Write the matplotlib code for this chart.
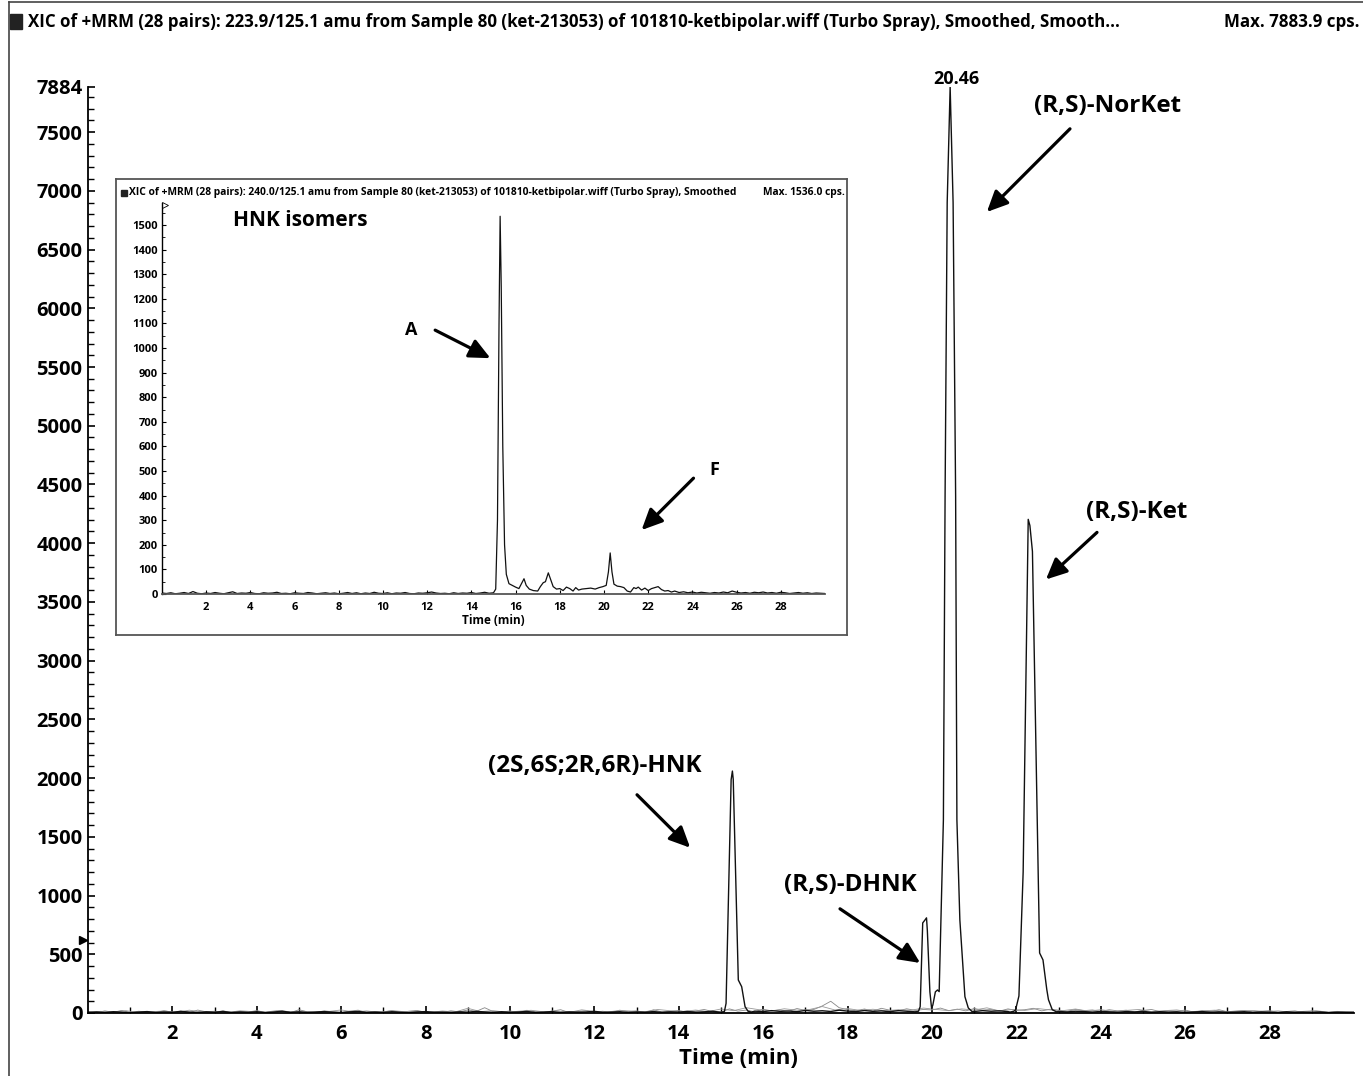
import numpy as np
import matplotlib
matplotlib.use("Agg")
import matplotlib.pyplot as plt
from matplotlib.patches import Rectangle
from matplotlib.lines import Line2D

plt.rcParams['font.family'] = ['Open Sans', 'Noto Sans', 'DejaVu Sans']
plt.rcParams['font.weight'] = 'bold'

W, H = 1363, 1076

# ---------------- text
main_title = ("XIC of +MRM (28 pairs): 223.9/125.1 amu from Sample 80 (ket-213053) of "
              "101810-ketbipolar.wiff (Turbo Spray), Smoothed, Smooth...")
main_max = "Max. 7883.9 cps."
inset_title = ("XIC of +MRM (28 pairs): 240.0/125.1 amu from Sample 80 (ket-213053) of "
               "101810-ketbipolar.wiff (Turbo Spray), Smoothed")
inset_max = "Max. 1536.0 cps."

# ---------------- main chromatogram data (counts), baseline every 0.2 min
main_noise = [
    6, 9, 4, 11, 7, 3, 8, 12, 5, 9,
    6, 14, 8, 4, 10, 7, 13, 5, 9, 6,
    11, 4, 8, 15, 6, 10, 5, 9, 12, 7,
    4, 10, 13, 6, 8, 5, 11, 7, 3, 9,
    12, 6, 8, 4, 10, 7, 14, 9, 5, 11,
    6, 9, 13, 5, 8, 12, 4, 10, 7, 9,
    14, 6, 8, 11, 5, 9, 7, 12, 6, 10,
    8, 13, 7, 10, 15, 9, 12, 18, 11, 16,
    12, 20, 14, 17, 11, 22, 15, 19, 13, 24,
    16, 12, 21, 14, 18, 11, 20, 15, 13, 17,
    14, 19, 12, 22, 16, 13, 20, 15, 18, 12,
    17, 14, 19, 11, 16, 13, 9, 15, 12, 8,
    13, 10, 7, 12, 9, 14, 6, 11, 8, 10,
    5, 9, 12, 7, 10, 6, 8, 11, 5, 9,
    7, 4, 10, 6, 8, 5, 9, 3, 7, 6,
    5,
]
# other transitions (grey), every 0.2 min and every 0.3 min
gray_a = [
    12, 3, 18, 6, 22, 4, 15, 9, 2, 20,
    7, 16, 3, 25, 10, 5, 19, 2, 14, 8,
    21, 4, 12, 17, 3, 28, 9, 6, 18, 11,
    2, 16, 24, 5, 13, 8, 20, 3, 15, 22,
    6, 11, 4, 19, 9, 26, 14, 45, 12, 7,
    18, 3, 23, 10, 6, 16, 28, 4, 13, 20,
    8, 15, 2, 24, 11, 18, 5, 27, 9, 14,
    21, 6, 17, 30, 12, 8, 35, 16, 25, 10,
    32, 18, 26, 14, 38, 22, 30, 60, 100, 45,
    28, 20, 34, 16, 40, 24, 18, 36, 22, 30,
    26, 42, 20, 33, 18, 38, 25, 30, 16, 35,
    22, 28, 40, 18, 32, 24, 15, 30, 20, 26,
    14, 28, 18, 24, 10, 22, 30, 12, 20, 16,
    25, 8, 19, 14, 28, 11, 17, 22, 9, 15,
    20, 6, 13, 18, 4, 16, 10, 7, 14, 5,
    9,
]
gray_b = [
    5, 14, 8, 20, 3, 11, 17, 6, 24, 9,
    15, 4, 19, 12, 7, 22, 10, 16, 3, 13,
    26, 8, 18, 5, 21, 11, 14, 6, 17, 9,
    40, 12, 20, 7, 15, 23, 10, 18, 5, 27,
    13, 8, 22, 16, 11, 30, 19, 14, 25, 12,
    34, 20, 45, 28, 18, 36, 24, 30, 55, 26,
    38, 22, 32, 19, 28, 24, 42, 30, 20, 35,
    25, 44, 18, 30, 22, 38, 26, 20, 34, 16,
    28, 14, 22, 30, 12, 20, 26, 10, 18, 24,
    8, 16, 22, 11, 18, 7, 14, 20, 6, 12,
    9,
]

# peaks of the main trace: (times, counts)
hnk_t = [15.0, 15.08, 15.12, 15.24, 15.27, 15.29, 15.41, 15.49, 15.57, 15.64, 15.72]
hnk_v = [6, 12, 82, 1986, 2060, 1990, 281, 224, 54, 15, 8]
norket_t = [19.6, 19.68, 19.72, 19.78, 19.83, 19.87, 19.89, 19.95, 19.99, 20.02, 20.08,
            20.13, 20.17, 20.27, 20.31, 20.36, 20.43, 20.50, 20.56, 20.59, 20.66,
            20.78, 20.86, 20.95]
norket_v = [10, 15, 54, 767, 790, 810, 700, 180, 40, 68, 180,
            196, 182, 1645, 4400, 6900, 7884, 6900, 4400, 1645, 793,
            139, 43, 12]
ket_t = [21.85, 21.94, 21.98, 22.06, 22.16, 22.28, 22.32, 22.38, 22.55, 22.63, 22.72,
         22.76, 22.85, 22.95]
ket_v = [8, 15, 26, 145, 1200, 4203, 4150, 3930, 511, 452, 200, 113, 28, 10]

# ---------------- inset (240.0/125.1, HNK isomers)
inset_pre = [
    4, 2, 5, 1, 3, 6, 2, 10, 3, 1,
    4, 2, 6, 3, 1, 5, 9, 2, 4, 3,
    6, 2, 1, 5, 3, 4, 7, 2, 3, 1,
    5, 3, 2, 6, 4, 1, 3, 5, 2, 4,
    1, 3, 6, 2, 5, 1, 4, 2, 7, 3,
    2, 5, 1, 4, 3, 6, 2, 1, 4, 3,
    5, 8, 4, 2, 3, 1, 5, 2, 4, 3,
    6, 2, 4, 7, 3,
]
inset_mid_t = [15.0, 15.1, 15.18, 15.25, 15.3, 15.35, 15.42, 15.5, 15.58, 15.7, 15.85,
               16.0, 16.15, 16.28, 16.38, 16.48, 16.62, 16.8, 17.0, 17.12, 17.25, 17.35,
               17.48, 17.58, 17.7, 17.85, 18.0, 18.15, 18.3, 18.45, 18.6, 18.72, 18.85,
               19.0, 19.2, 19.4, 19.6, 19.78, 19.95, 20.1, 20.2, 20.28, 20.36, 20.45,
               20.6, 20.75, 20.9, 21.05, 21.2, 21.35, 21.45, 21.55, 21.7, 21.85, 22.0,
               22.15, 22.3, 22.45, 22.6, 22.75, 22.9, 23.05, 23.2]
inset_mid_v = [5, 20, 300, 1100, 1536, 1250, 600, 200, 80, 42, 35,
               28, 22, 45, 62, 35, 20, 14, 12, 30, 46, 50,
               86, 60, 30, 20, 22, 14, 28, 22, 12, 26, 16,
               20, 22, 24, 20, 26, 30, 35, 90, 167, 90, 40,
               32, 30, 26, 12, 8, 26, 22, 28, 16, 24, 14,
               22, 26, 30, 18, 12, 14, 8, 12]
inset_post = [
    6, 9, 5, 8, 4, 7, 5, 3, 6, 4,
    8, 5, 12, 7, 4, 6, 3, 7, 5, 8,
    4, 6, 3, 7, 5, 2, 4, 6, 3, 5,
    2, 4, 3, 2,
]


def build_trace(step, noise, peaks):
    t = np.arange(len(noise)) * step
    v = np.array(noise, float)
    keep = np.ones(len(t), bool)
    for pt, pv in peaks:
        keep &= ~((t >= pt[0]) & (t <= pt[-1]))
    t_all = np.concatenate([t[keep]] + [np.array(p[0], float) for p in peaks])
    v_all = np.concatenate([v[keep]] + [np.array(p[1], float) for p in peaks])
    order = np.argsort(t_all)
    return t_all[order], v_all[order]


fig = plt.figure(figsize=(W / 100, H / 100), dpi=100)

# outer frame + header
fig.add_artist(Line2D([9 / W, 9 / W], [0, 1 - 2 / H], color='#444', lw=1.2))
fig.add_artist(Line2D([9 / W, 1], [1 - 2 / H, 1 - 2 / H], color='#444', lw=1.2))
fig.add_artist(Rectangle((10 / W, 1 - 29 / H), 12 / W, 15 / H, color='#222',
                         transform=fig.transFigure))
fig.text(28 / W, 1 - 22 / H, main_title, fontsize=12.2, ha='left', va='center')
fig.text(1360 / W, 1 - 22 / H, main_max, fontsize=12.2, ha='right', va='center')

# ---------------- main axes
ax = fig.add_axes([88 / W, 1 - 1013 / H, (1354 - 88) / W, (1013 - 87) / H])
ax.set_xlim(0, 30)
ax.set_ylim(0, 7884)
for s in ['top', 'right']:
    ax.spines[s].set_visible(False)
for s in ['left', 'bottom']:
    ax.spines[s].set_linewidth(1.3)

ga_t = np.arange(len(gray_a)) * 0.2
gb_t = np.arange(len(gray_b)) * 0.3
ax.plot(ga_t, gray_a, color='#888', lw=0.6)
ax.plot(gb_t, gray_b, color='#999', lw=0.6)
mt, mv = build_trace(0.2, main_noise, [(hnk_t, hnk_v), (norket_t, norket_v), (ket_t, ket_v)])
ax.plot(mt, mv, color='#111', lw=1.0)

yt = list(range(0, 7501, 500)) + [7884]
ax.set_yticks(yt)
ax.set_yticklabels([str(v) for v in yt])
ax.set_yticks(range(100, 7900, 100), minor=True)
xt = list(range(2, 29, 2))
ax.set_xticks(xt)
ax.set_xticklabels([str(v) for v in xt])
ax.set_xticks(range(1, 30, 2), minor=True)
ax.tick_params(axis='both', which='major', direction='in', length=5, width=1.2,
               labelsize=14.5)
ax.tick_params(axis='y', which='major', pad=4)
ax.tick_params(axis='x', which='major', pad=8)
ax.tick_params(axis='both', which='minor', direction='in', length=4, width=1.0)
ax.plot([-0.13], [622], marker='>', ms=6, color='black', clip_on=False)
fig.text(738 / W, 1 - 1058 / H, 'Time (min)', fontsize=16, ha='center', va='center')

arrow = dict(arrowstyle='-|>,head_length=0.9,head_width=0.42', lw=2.3, color='black',
             shrinkA=0, shrinkB=0, mutation_scale=14)
ax.text(20.57, 7954, '20.46', fontsize=13, ha='center', va='center', clip_on=False)
ax.text(24.15, 7724, '(R,S)-NorKet', fontsize=17.5, ha='center', va='center')
ax.annotate('', xy=(21.30, 6820), xytext=(23.27, 7528), arrowprops=arrow)
ax.text(24.86, 4263, '(R,S)-Ket', fontsize=17.5, ha='center', va='center')
ax.annotate('', xy=(22.70, 3691), xytext=(23.91, 4092), arrowprops=arrow)
ax.text(12.01, 2106, '(2S,6S;2R,6R)-HNK', fontsize=17.5, ha='center', va='center')
ax.annotate('', xy=(14.27, 1407), xytext=(13.01, 1858), arrowprops=arrow)
ax.text(18.06, 1091, '(R,S)-DHNK', fontsize=17.5, ha='center', va='center')
ax.annotate('', xy=(19.72, 426), xytext=(17.82, 887), arrowprops=arrow)

# ---------------- inset
frame = fig.add_axes([116 / W, 1 - 635 / H, (847 - 116) / W, (635 - 179) / H])
frame.set_xticks([])
frame.set_yticks([])
frame.set_facecolor('white')
for s in frame.spines.values():
    s.set_color('#555')
    s.set_linewidth(1.3)
frame.set_zorder(3)

fig.add_artist(Rectangle((121 / W, 1 - 196 / H), 6 / W, 6 / H, color='#222',
                         transform=fig.transFigure, zorder=6))
fig.text(129 / W, 1 - 193 / H, inset_title, fontsize=7.4, ha='left', va='center', zorder=6)
fig.text(845 / W, 1 - 193 / H, inset_max, fontsize=7.4, ha='right', va='center', zorder=6)

ia = fig.add_axes([162 / W, 1 - 594 / H, (825 - 162) / W, (594 - 203) / H])
ia.set_zorder(4)
ia.patch.set_alpha(0)
ia.set_xlim(0, 30)
ia.set_ylim(0, 1590)
for s in ['top', 'right']:
    ia.spines[s].set_visible(False)
ia.spines['left'].set_linewidth(1.0)
ia.spines['bottom'].set_linewidth(1.3)
ia.spines['bottom'].set_color('#555')

pre_t = np.arange(len(inset_pre)) * 0.2
post_t = 23.4 + np.arange(len(inset_post)) * 0.2
it = np.concatenate([pre_t, inset_mid_t, post_t])
iv = np.concatenate([inset_pre, inset_mid_v, inset_post])
ia.plot(it, iv, color='#111', lw=0.9)

iyt = list(range(0, 1501, 100))
ia.set_yticks(iyt)
ia.set_yticklabels([str(v) for v in iyt])
ia.set_yticks(range(50, 1551, 100), minor=True)
ixt = list(range(2, 29, 2))
ia.set_xticks(ixt)
ia.set_xticklabels([str(v) for v in ixt])
ia.tick_params(axis='both', which='major', direction='in', length=3, width=0.8,
               labelsize=8, pad=3)
ia.tick_params(axis='x', which='major', pad=6)
ia.tick_params(axis='y', which='minor', direction='in', length=2, width=0.6)
ia.plot([0.12], [1580], marker='>', ms=4, mfc='white', mec='black', mew=0.6,
        clip_on=False)
fig.text(493 / W, 1 - 621 / H, 'Time (min)', fontsize=8.5, ha='center', va='center',
         zorder=6)

ia.text(6.25, 1520, 'HNK isomers', fontsize=15, ha='center', va='center')
ia.text(11.28, 1073, 'A', fontsize=13, ha='center', va='center')
ia.annotate('', xy=(14.86, 959), xytext=(12.36, 1073), arrowprops=arrow)
ia.text(25.0, 504, 'F', fontsize=13, ha='center', va='center')
ia.annotate('', xy=(21.7, 260), xytext=(24.05, 471), arrowprops=arrow)

fig.savefig('out.png', dpi=100)
